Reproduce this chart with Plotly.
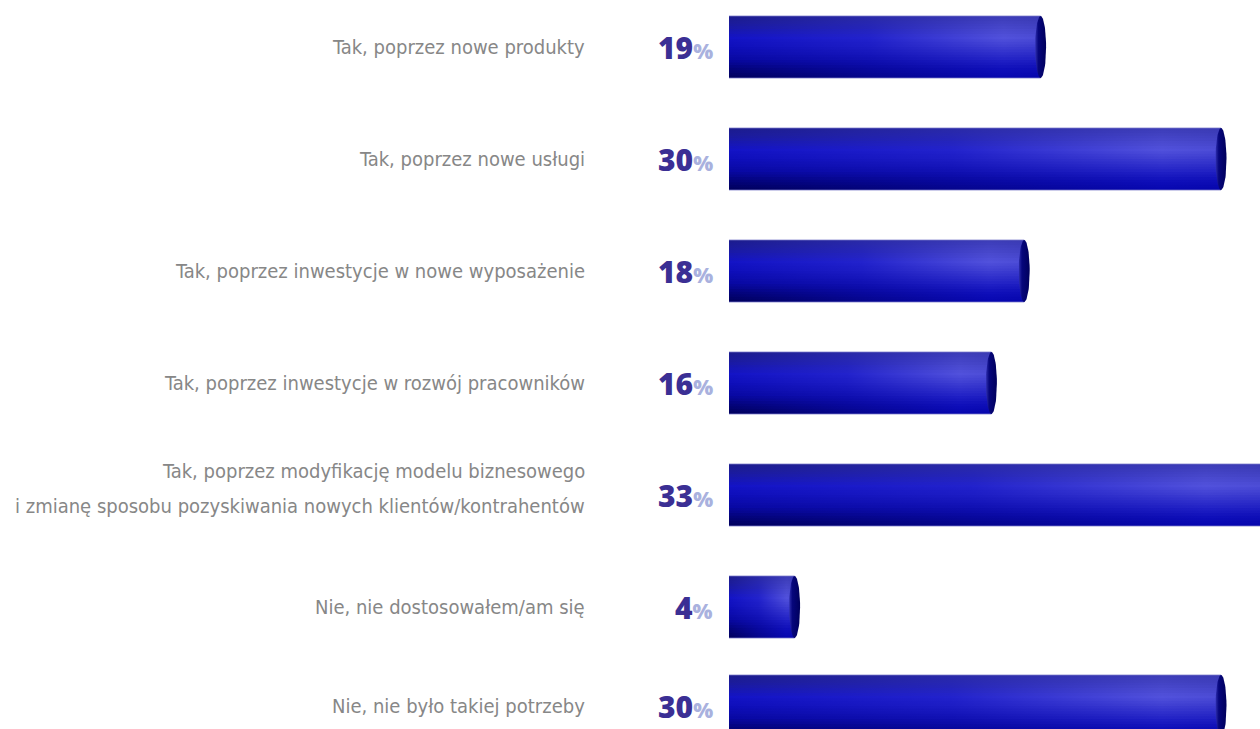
import numpy as np
import plotly.graph_objects as go

# ---- data -------------------------------------------------------------
categories = [
    "Tak, poprzez nowe produkty",
    "Tak, poprzez nowe usługi",
    "Tak, poprzez inwestycje w nowe wyposażenie",
    "Tak, poprzez inwestycje w rozwój pracowników",
    "Tak, poprzez modyfikację modelu biznesowego<br>i zmianę sposobu pozyskiwania nowych klientów/kontrahentów",
    "Nie, nie dostosowałem/am się",
    "Nie, nie było takiej potrzeby",
]
values = [19, 30, 18, 16, 33, 4, 30]

# ---- layout / geometry ------------------------------------------------
W, H = 1260, 729
LEFT = 729                     # pixel where bars start
PX_PER_PCT = 16.4
PX_PER_ROW = 112
FIRST_CENTER_PX = 47
row_pos = [0, 1, 2, 3, 4, 5, 5.884]
BAR_H = 62 / PX_PER_ROW
CAP_RX = 5.5 / PX_PER_PCT
LINE_GAP_PX = 35               # spacing of wrapped label lines

x_max = (W - LEFT) / PX_PER_PCT
y_top = -FIRST_CENTER_PX / PX_PER_ROW
y_bot = (H - FIRST_CENTER_PX) / PX_PER_ROW

# cylinder shading grid: rows = vertical fraction, columns = horizontal fraction
shade_t = [0.0, 0.15, 0.35, 0.5, 0.7, 0.85, 1.0]
shade_s = [0.0, 0.45, 0.88, 1.0]
shade = [
    ["#1c1c8c", "#2a2aa6", "#3c3cb6", "#3a3ab2"],
    ["#1a1a9e", "#2626b4", "#4444c6", "#4040c0"],
    ["#1313c6", "#2222cc", "#5252dc", "#4c4cd6"],
    ["#0e0eba", "#1c1cc4", "#3e3ed2", "#3a3acd"],
    ["#0808a2", "#1010b2", "#2222c6", "#2020c2"],
    ["#03037a", "#08089e", "#0f0fba", "#0e0eb6"],
    ["#00005a", "#04048a", "#0606b0", "#0606ac"],
]


def hex2rgb(h):
    h = h.lstrip("#")
    return np.array([int(h[i:i + 2], 16) for i in (0, 2, 4)], dtype=float)


shade_rgb = np.array([[hex2rgb(c) for c in row] for row in shade])


def col_at(t, j):
    r = np.array([np.interp(t, shade_t, shade_rgb[:, j, k]) for k in range(3)])
    return "rgb(%d,%d,%d)" % tuple(np.round(r).astype(int))


fig = go.Figure()
N_STRIPS = 24

for v, c in zip(values, row_pos):
    top = c - BAR_H / 2
    step = BAR_H / N_STRIPS
    # body of the cylinder, drawn as horizontal strips with a left-to-right gradient
    for i in range(N_STRIPS):
        t = (i + 0.5) / N_STRIPS
        y0 = top + i * step
        y1 = top + (i + 1) * step + (step * 0.6 if i < N_STRIPS - 1 else 0)
        cs = [[s, col_at(t, j)] for j, s in enumerate(shade_s)]
        fig.add_trace(go.Scatter(
            x=[0, v, v, 0, 0], y=[y0, y0, y1, y1, y0],
            mode="lines", line=dict(width=0), fill="toself",
            fillgradient=dict(type="horizontal", colorscale=cs, start=0, stop=v),
            hoverinfo="skip", showlegend=False,
        ))
    # thin highlight edges
    for ye in (top, top + BAR_H):
        fig.add_trace(go.Scatter(
            x=[0, v], y=[ye, ye], mode="lines",
            line=dict(width=1, color="rgba(120,120,200,0.75)"),
            hoverinfo="skip", showlegend=False,
        ))
    # end cap
    th = np.linspace(0, 2 * np.pi, 80)
    fig.add_trace(go.Scatter(
        x=v + CAP_RX * np.cos(th), y=c + BAR_H / 2 * np.sin(th),
        mode="lines", line=dict(width=0), fill="toself",
        fillgradient=dict(type="horizontal",
                          colorscale=[[0, "#3030b0"], [0.3, "#06067c"], [1, "#00005c"]],
                          start=v - CAP_RX, stop=v + CAP_RX),
        hoverinfo="skip", showlegend=False,
    ))

label_font = dict(family="Liberation Sans Narrow, DejaVu Sans Condensed, sans-serif",
                  size=20, color="#878787")

annotations = []
for cat, v, c in zip(categories, values, row_pos):
    lines = cat.split("<br>")
    n = len(lines)
    for k, line in enumerate(lines):
        # wrapped labels sit slightly above the bar centre
        shift = -(k - (n - 1) / 2) * LINE_GAP_PX + (7 if n > 1 else 0)
        annotations.append(dict(
            text=line, x=0, xref="paper", y=c, yref="y",
            xanchor="right", yanchor="middle", xshift=-142, yshift=shift,
            align="right", showarrow=False, font=label_font,
        ))
    annotations.append(dict(
        text=f"{v}<span style='font-size:21px;color:#a9b1de'>%</span>",
        x=0, xref="paper", y=c, yref="y",
        xanchor="right", yanchor="middle", xshift=-14,
        showarrow=False,
        font=dict(family="Open Sans, sans-serif", size=30, color="#3b2f94", weight=800),
    ))

fig.update_layout(
    width=W, height=H,
    margin=dict(l=LEFT, r=0, t=0, b=0),
    paper_bgcolor="white", plot_bgcolor="white",
    xaxis=dict(range=[0, x_max], visible=False, fixedrange=True),
    yaxis=dict(range=[y_bot, y_top], visible=False, fixedrange=True),
    annotations=annotations,
    showlegend=False,
)

fig.write_html("out.html")
